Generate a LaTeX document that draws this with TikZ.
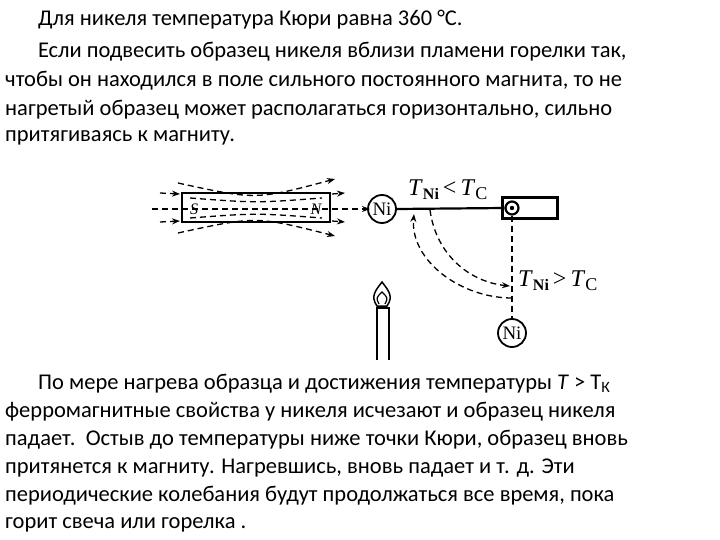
\documentclass[tikz,border=0pt]{standalone}
\usepackage{fontspec}
\setmainfont{Carlito}
\newfontfamily\tms{Liberation Serif}
\usetikzlibrary{arrows.meta}
\begin{document}
\begin{tikzpicture}[x=1pt,y=-1pt,
 txt/.style={anchor=west,inner sep=0pt,font=\fontsize{22.5}{24}\selectfont},
 lbl/.style={inner sep=0pt,font=\tms\fontsize{24}{26}\selectfont},
 ni/.style={circle,draw,line width=1.8pt,minimum size=28pt,inner sep=0pt,font=\tms\fontsize{19}{20}\selectfont},
 fl/.style={dashed,dash pattern=on 6pt off 4pt,line width=1.3pt,-{Stealth[length=8pt,width=6pt]}},
 dl/.style={dashed,dash pattern=on 6pt off 4pt,line width=1.3pt},
 th/.style={line width=2.2pt}]
\useasboundingbox (0,0) rectangle (720,540);
\node[txt] (l1) at (38,20) {Для никеля температура Кюри равна 360 °С.};
\node[txt] (l2) at (38,52) {Если подвесить образец никеля вблизи пламени горелки так,};
\node[txt] (l3) at (5,81) {чтобы он находился в поле сильного постоянного магнита, то не};
\node[txt] (l4) at (5,110) {нагретый образец может располагаться горизонтально, сильно};
\node[txt] (l5) at (5,138) {притягиваясь к магниту.};
\node[txt] (b1) at (38,384) {По мере нагрева образца и достижения температуры \textit{T} > T\textsubscript{К}};
\node[txt] (b2) at (5,412) {ферромагнитные свойства у никеля исчезают и образец никеля};
\node[txt] (b3) at (5,440) {падает.\ \ Остыв до температуры ниже точки Кюри, образец вновь};
\node[txt] (b4) at (5,468) {притянется к магниту. Нагревшись, вновь падает и т. д. Эти};
\node[txt] (b5) at (5,496) {периодические колебания будут продолжаться все время, пока};
\node[txt] (b6) at (5,525) {горит свеча или горелка .};
% magnet
\node[draw,th,minimum width=148pt,minimum height=29pt,inner sep=0pt] (mag) at (256,207.5) {};
\node[font=\tms\itshape\fontsize{16}{16}\selectfont] (S) at (194,209) {S};
\node[font=\tms\itshape\fontsize{16}{16}\selectfont] (N) at (316,209) {N};
\draw[fl] (152,209) -- (370,209);
\draw[dl] (190,198) .. controls (256,203) .. (322,198);
\draw[dl] (190,218) .. controls (256,213) .. (322,218);
\draw[fl] (160,193) -- (180,194);
\draw[fl] (160,222) -- (180,221);
\draw[fl] (332,194) -- (345,193);
\draw[fl] (332,221) -- (345,222);
\draw[fl] (178,183) .. controls (256,200) .. (335,179);
\draw[fl] (178,233) .. controls (256,216) .. (335,236);
% Ni and rod
\node[ni] (n1) at (382,209) {Ni};
\node[draw,th,minimum width=55pt,minimum height=21pt,inner sep=0pt] (blk) at (530,208) {};
\node[circle,draw,th,minimum size=13pt,inner sep=0pt] (piv) at (512,208) {};
\fill (piv.center) circle (2.2pt);
\draw[th] (n1.east) -- (piv.west);
\node[ni] (n2) at (512,333) {Ni};
\draw[dl] (piv.south) -- (n2.north);
\coordinate (a1) at (430,210);
\coordinate (a2) at (510,286);
\coordinate (a3) at (512,298);
\coordinate (a4) at (414,214);
\draw[fl] (a1) .. controls (436,255) and (470,282) .. (a2);
\draw[dl,-{Stealth[length=8pt,width=6pt]}] (a3) .. controls (460,298) and (410,260) .. (a4);
\node[lbl,anchor=south west] (t1) at (408,200) {\textit{T}\raisebox{-4pt}{\fontsize{16}{16}\selectfont\bfseries Ni}\,<\,\textit{T}\raisebox{-4pt}{\fontsize{18}{18}\selectfont C}};
\node[lbl,anchor=west] (t2) at (518,281) {\textit{T}\raisebox{-4pt}{\fontsize{16}{16}\selectfont\bfseries Ni}\,>\,\textit{T}\raisebox{-4pt}{\fontsize{18}{18}\selectfont C}};
% candle
\draw[th] (377,360) -- (377,308) -- (389,308) -- (389,360);
\draw[line width=1.5pt] (377,306) .. controls (370,296) and (376,290) .. (382,282) .. controls (388,290) and (394,296) .. (387,306) -- cycle;
\draw[line width=1.2pt] (379,304) .. controls (376,298) .. (382,292) .. controls (388,298) .. (385,304);
\end{tikzpicture}
\end{document}
